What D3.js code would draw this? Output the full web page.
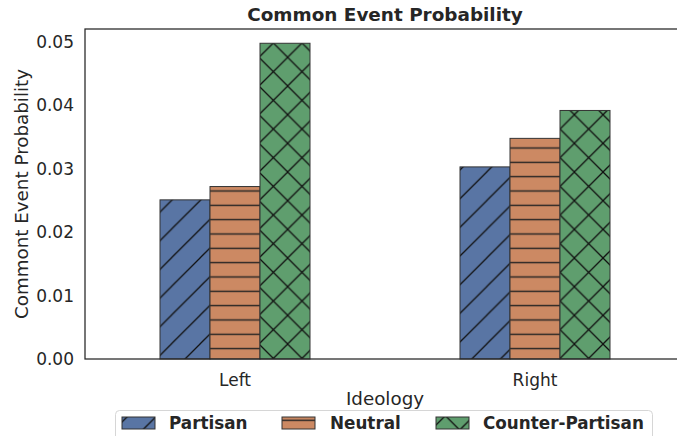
<!DOCTYPE html>
<html>
<head>
<meta charset="utf-8">
<script src="https://cdn.jsdelivr.net/npm/d3@7"></script>
<style>
  body { margin: 0; background: #fff; }
  text { font-family: "DejaVu Sans", sans-serif; fill: #262626; }
</style>
</head>
<body>
<svg id="chart" width="677" height="436"></svg>
<script>
// data
var categories = ["Left", "Right"];
var seriesNames = ["Partisan", "Neutral", "Counter-Partisan"];
var partisan = [0.0251, 0.0303];
var neutral = [0.0272, 0.0348];
var counterPartisan = [0.0498, 0.0392];
var yTicks = [0.00, 0.01, 0.02, 0.03, 0.04, 0.05];

var colours = ["#5975a4", "#cc8963", "#5f9e6e"];
var hatches = ["diag", "horiz", "cross"];

var svg = d3.select("#chart");

// plot area (right spine sits just outside the window, as in the reference)
var plotLeft = 85, plotRight = 685, plotTop = 29, plotBottom = 359;

var x = d3.scaleBand()
    .domain(categories)
    .range([plotLeft, plotRight])
    .paddingInner(0.5)
    .paddingOuter(0.25);

var xInner = d3.scaleBand()
    .domain(seriesNames)
    .range([0, x.bandwidth()]);

var y = d3.scaleLinear()
    .domain([0, 0.05205])
    .range([plotBottom, plotTop]);

// hatch patterns
var defs = svg.append("defs");
var P = 28.67, H = 14.33;

var pd = defs.append("pattern")
    .attr("id", "diag")
    .attr("patternUnits", "userSpaceOnUse")
    .attr("width", P).attr("height", P)
    .attr("patternTransform", "translate(" + (372 % P) + ",0)");
pd.append("path")
    .attr("d", "M-2," + (P + 2) + " L" + (P + 2) + ",-2 M-2,2 L2,-2 M" + (P - 2) + "," + (P + 2) + " L" + (P + 2) + "," + (P - 2))
    .attr("stroke", "#111").attr("stroke-width", 1.3);

var ph = defs.append("pattern")
    .attr("id", "horiz")
    .attr("patternUnits", "userSpaceOnUse")
    .attr("width", 20).attr("height", H)
    .attr("patternTransform", "translate(0," + (191 % H - H / 2) + ")");
ph.append("line")
    .attr("x1", -1).attr("x2", 21)
    .attr("y1", H / 2).attr("y2", H / 2)
    .attr("stroke", "#222").attr("stroke-width", 1.4);

var pc = defs.append("pattern")
    .attr("id", "cross")
    .attr("patternUnits", "userSpaceOnUse")
    .attr("width", P).attr("height", P)
    .attr("patternTransform", "translate(" + (345 % P) + ",0)");
pc.append("path")
    .attr("d", "M-2," + (P + 2) + " L" + (P + 2) + ",-2 M-2,2 L2,-2 M" + (P - 2) + "," + (P + 2) + " L" + (P + 2) + "," + (P - 2) +
               " M-2,-2 L" + (P + 2) + "," + (P + 2) + " M" + (P - 2) + ",-2 L" + (P + 2) + ",2 M-2," + (P - 2) + " L2," + (P + 2))
    .attr("stroke", "#111").attr("stroke-width", 1.3);

var seriesValues = [partisan, neutral, counterPartisan];

var bars = [];
seriesNames.forEach(function(s, i) {
  categories.forEach(function(c, j) {
    bars.push({ series: s, cat: c, value: seriesValues[i][j], idx: i });
  });
});

var g = svg.append("g");
g.selectAll("g.bar")
    .data(bars)
    .enter()
    .append("g")
    .each(function(d) {
      var el = d3.select(this);
      var bx = x(d.cat) + xInner(d.series);
      var by = y(d.value);
      el.append("rect")
          .attr("x", bx).attr("y", by)
          .attr("width", xInner.bandwidth())
          .attr("height", y(0) - by)
          .attr("fill", colours[d.idx]);
      el.append("rect")
          .attr("x", bx).attr("y", by)
          .attr("width", xInner.bandwidth())
          .attr("height", y(0) - by)
          .attr("fill", "url(#" + hatches[d.idx] + ")")
          .attr("stroke", "#333")
          .attr("stroke-width", 1);
    });

// spines
svg.append("rect")
    .attr("x", plotLeft).attr("y", plotTop)
    .attr("width", plotRight - plotLeft).attr("height", plotBottom - plotTop)
    .attr("fill", "none")
    .attr("stroke", "#262626")
    .attr("stroke-width", 1.25);

// y axis tick labels
svg.selectAll("text.ytick")
    .data(yTicks)
    .enter()
    .append("text")
    .attr("class", "ytick")
    .attr("x", plotLeft - 11)
    .attr("y", function(d) { return y(d); })
    .attr("dy", "0.35em")
    .attr("text-anchor", "end")
    .style("font-size", "17px")
    .text(function(d) { return d.toFixed(2); });

// x tick labels
svg.selectAll("text.xtick")
    .data(categories)
    .enter()
    .append("text")
    .attr("class", "xtick")
    .attr("x", function(d) { return x(d) + x.bandwidth() / 2; })
    .attr("y", plotBottom + 21)
    .attr("dy", "0.35em")
    .attr("text-anchor", "middle")
    .style("font-size", "17px")
    .text(function(d) { return d; });

// labels
svg.append("text")
    .attr("x", (plotLeft + plotRight) / 2)
    .attr("y", 399)
    .attr("dy", "0.35em")
    .attr("text-anchor", "middle")
    .style("font-size", "18.3px")
    .text("Ideology");

svg.append("text")
    .attr("transform", "translate(22," + ((plotTop + plotBottom) / 2) + ") rotate(-90)")
    .attr("dy", "0.35em")
    .attr("text-anchor", "middle")
    .style("font-size", "18.3px")
    .text("Commont Event Probability");

svg.append("text")
    .attr("x", (plotLeft + plotRight) / 2)
    .attr("y", 15)
    .attr("dy", "0.35em")
    .attr("text-anchor", "middle")
    .style("font-size", "18.4px")
    .style("font-weight", "bold")
    .text("Common Event Probability");

// legend
var legend = svg.append("g");
legend.append("rect")
    .attr("x", 115.5).attr("y", 410.5)
    .attr("width", 537).attr("height", 40)
    .attr("rx", 4)
    .attr("fill", "#fff")
    .attr("stroke", "#d6d6d6");

var patchX = [122, 282, 436];
var textX = [169, 330, 483];

legend.selectAll("g.item")
    .data(seriesNames)
    .enter()
    .append("g")
    .each(function(d, i) {
      var el = d3.select(this);
      el.append("rect")
          .attr("x", patchX[i]).attr("y", 417)
          .attr("width", 33).attr("height", 12)
          .attr("fill", colours[i]);
      el.append("rect")
          .attr("x", patchX[i]).attr("y", 417)
          .attr("width", 33).attr("height", 12)
          .attr("fill", "url(#" + hatches[i] + ")")
          .attr("stroke", "#333");
      el.append("text")
          .attr("x", textX[i]).attr("y", 423)
          .attr("dy", "0.35em")
          .style("font-size", "16.8px")
          .style("font-weight", "bold")
          .text(d);
    });
</script>
</body>
</html>
